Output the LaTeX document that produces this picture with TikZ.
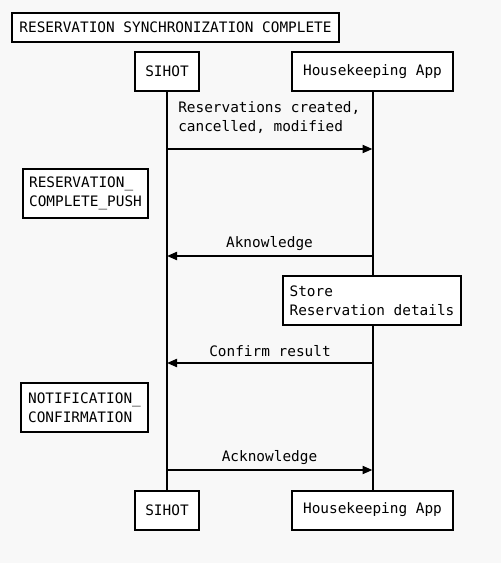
\documentclass[tikz,border=0pt]{standalone}
\usepackage{fontspec}
\setmonofont{DejaVu Sans Mono}
\usetikzlibrary{arrows.meta}
\definecolor{bgc}{RGB}{248,248,248}
\newcommand{\seqfont}{\ttfamily\fontsize{10.8pt}{14.25pt}\selectfont}
\tikzset{
  seqbox/.style={draw=black, line width=1.5pt, fill=white, font=\seqfont, inner sep=0pt, align=left},
  lifeline/.style={draw=black, line width=1.5pt},
  msg/.style={draw=black, line width=1.5pt, -{Triangle[length=7.5pt,width=6pt]}},
  msglabel/.style={font=\seqfont, inner sep=0pt, align=left}
}
\begin{document}
\begin{tikzpicture}[x=0.75pt,y=-0.75pt]
\fill[bgc] (0,0) rectangle (501,563);
\useasboundingbox (0,0) rectangle (501,563);
% title
\node[seqbox, minimum width=327*0.75pt, minimum height=29*0.75pt] (title) at (175.5,27.5) {RESERVATION SYNCHRONIZATION COMPLETE};
% participants
\node[seqbox, minimum width=64*0.75pt, minimum height=39*0.75pt] (sTop) at (167,71.5) {SIHOT};
\node[seqbox, minimum width=161*0.75pt, minimum height=39*0.75pt] (hTop) at (372.5,71.5) {Housekeeping App};
\node[seqbox, minimum width=64*0.75pt, minimum height=39*0.75pt] (sBot) at (167,510) {SIHOT};
\node[seqbox, minimum width=161*0.75pt, minimum height=39*0.75pt] (hBot) at (372.5,510) {Housekeeping App};
% lifelines
\draw[lifeline] (sTop.south) -- (sBot.north);
\draw[lifeline] (hTop.south) -- (hBot.north);
% notes
\node[seqbox, minimum width=125*0.75pt, minimum height=49*0.75pt] (note1) at (85.5,193.5) {RESERVATION\_\\COMPLETE\_PUSH};
\node[seqbox, minimum width=178*0.75pt, minimum height=49*0.75pt] (store) at (372,300.5) {Store\\Reservation details};
\node[seqbox, minimum width=127*0.75pt, minimum height=49*0.75pt] (note2) at (84.5,407.5) {NOTIFICATION\_\\CONFIRMATION};
% message points
\coordinate (s1) at (167,149);   \coordinate (h1) at (372.5,149);
\coordinate (s2) at (167,256);   \coordinate (h2) at (372.5,256);
\coordinate (s3) at (167,363);   \coordinate (h3) at (372.5,363);
\coordinate (s4) at (167,470);   \coordinate (h4) at (372.5,470);
% messages
\draw[msg] (s1) -- (h1);
\draw[msg] (h2) -- (s2);
\draw[msg] (h3) -- (s3);
\draw[msg] (s4) -- (h4);
% labels
\node[msglabel, anchor=west] (l1) at (178,117.5) {Reservations created,\\cancelled, modified};
\node[msglabel] (l2) at (269.5,244) {Aknowledge};
\node[msglabel] (l3) at (270,351) {Confirm result};
\node[msglabel] (l4) at (269.5,458) {Acknowledge};
\end{tikzpicture}
\end{document}
